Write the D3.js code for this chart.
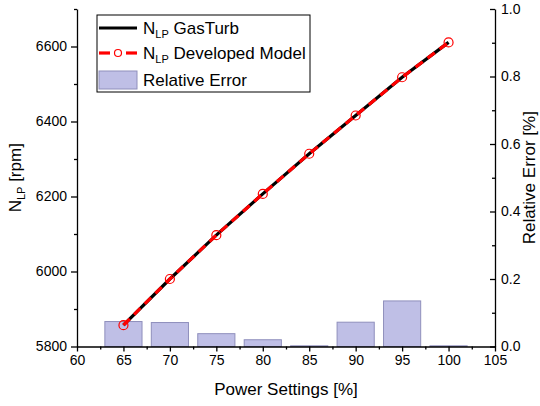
<!DOCTYPE html>
<html>
<head>
<meta charset="utf-8">
<style>
  body { margin: 0; background: #fff; }
  svg { font-family: "Liberation Sans", Arial, sans-serif; }
  .tick text { font-size: 14px; fill: #000; }
</style>
</head>
<body>
<svg id="chart" width="540" height="406"></svg>
<script src="https://cdn.jsdelivr.net/npm/d3@7"></script>
<script>
// data
let power = [65, 70, 75, 80, 85, 90, 95, 100]
let nlpGasTurb = [5857, 5980, 6097, 6207, 6314, 6416, 6518, 6611]
let nlpModel = [5857, 5980, 6097, 6207, 6314, 6416, 6518, 6611]
let relError = [0.074, 0.071, 0.038, 0.020, 0.002, 0.072, 0.135, 0.002]
let xTicks = [60, 65, 70, 75, 80, 85, 90, 95, 100, 105]
let yLeftTicks = [5800, 6000, 6200, 6400, 6600]
let yRightTicks = [0, 0.2, 0.4, 0.6, 0.8, 1.0]

let plotL = 77, plotR = 495, plotT = 9, plotB = 346.5
let svg = d3.select("#chart")

let x = d3.scaleLinear().domain([60, 105]).range([plotL, plotR])
let yL = d3.scaleLinear().domain([5800, 6700]).range([plotB, plotT])
let yR = d3.scaleLinear().domain([0, 1]).range([plotB, plotT])

// bars (relative error)
let barW = x(64) - x(60)
svg.append("g").selectAll("rect")
  .data(power.map((p, i) => ({p: p, e: relError[i]})))
  .enter().append("rect")
  .attr("x", d => x(d.p) - barW / 2)
  .attr("width", barW)
  .attr("y", d => yR(d.e))
  .attr("height", d => plotB - yR(d.e))
  .style("fill", "#bfbfe6")
  .style("stroke", "#8f8fbc")
  .style("stroke-width", 1)

// lines
let lineG = d3.line().x((d, i) => x(power[i])).y(d => yL(d))
svg.append("path").datum(nlpGasTurb)
  .attr("d", lineG)
  .style("fill", "none").style("stroke", "#000").style("stroke-width", 3.2)
svg.append("path").datum(nlpModel)
  .attr("d", lineG)
  .style("fill", "none").style("stroke", "#ff0000").style("stroke-width", 3.2)
  .style("stroke-dasharray", "9,6")
svg.append("g").selectAll("circle")
  .data(nlpModel).enter().append("circle")
  .attr("cx", (d, i) => x(power[i]))
  .attr("cy", d => yL(d))
  .attr("r", 4.5)
  .style("fill", "none").style("stroke", "#ff0000").style("stroke-width", 1.2)

// axes
let xAxis = d3.axisBottom(x).tickValues(xTicks).tickSizeInner(5).tickSizeOuter(0).tickPadding(4)
svg.append("g").attr("transform", `translate(0,${plotB})`).call(xAxis)
svg.append("g").attr("transform", `translate(0,${plotB})`)
  .call(d3.axisBottom(x).tickValues(d3.range(62.5, 105, 5)).tickSize(3).tickFormat(""))
  .select(".domain").remove()

let yAxisL = d3.axisLeft(yL).tickValues(yLeftTicks).tickFormat(d3.format("d"))
  .tickSizeInner(6).tickSizeOuter(0).tickPadding(4)
svg.append("g").attr("transform", `translate(${plotL},0)`).call(yAxisL)
svg.append("g").attr("transform", `translate(${plotL},0)`)
  .call(d3.axisLeft(yL).tickValues([5900, 6100, 6300, 6500, 6700]).tickSize(3).tickFormat(""))
  .select(".domain").remove()

let yAxisR = d3.axisRight(yR).tickValues(yRightTicks).tickFormat(d3.format(".1f"))
  .tickSizeInner(-5).tickSizeOuter(0).tickPadding(6)
svg.append("g").attr("transform", `translate(${plotR},0)`).call(yAxisR)
svg.append("g").attr("transform", `translate(${plotR},0)`)
  .call(d3.axisRight(yR).tickValues([0.1, 0.3, 0.5, 0.7, 0.9]).tickSize(-3).tickFormat(""))
  .select(".domain").remove()

svg.selectAll(".domain, .tick line").style("stroke", "#000").style("stroke-width", 1.3)

// axis titles
svg.append("text").attr("x", (plotL + plotR) / 2).attr("y", 395)
  .attr("text-anchor", "middle").style("font-size", "17px").text("Power Settings [%]")

let yt = svg.append("text").attr("transform", `translate(21,${(plotT + plotB) / 2}) rotate(-90)`)
  .attr("text-anchor", "middle").style("font-size", "17px")
yt.append("tspan").text("N")
yt.append("tspan").attr("dy", 4).style("font-size", "11px").text("LP")
yt.append("tspan").attr("dy", -4).text(" [rpm]")

svg.append("text").attr("transform", `translate(535,${(plotT + plotB) / 2}) rotate(-90)`)
  .attr("text-anchor", "middle").style("font-size", "17px").text("Relative Error [%]")

// legend
let lg = svg.append("g")
lg.append("rect").attr("x", 97).attr("y", 15).attr("width", 213).attr("height", 77)
  .style("fill", "#fff").style("stroke", "#000").style("stroke-width", 1)
lg.append("line").attr("x1", 99).attr("x2", 137).attr("y1", 28).attr("y2", 28)
  .style("stroke", "#000").style("stroke-width", 3.2)
lg.append("line").attr("x1", 99).attr("x2", 110).attr("y1", 53).attr("y2", 53)
  .style("stroke", "#ff0000").style("stroke-width", 3.2)
lg.append("line").attr("x1", 126).attr("x2", 137).attr("y1", 53).attr("y2", 53)
  .style("stroke", "#ff0000").style("stroke-width", 3.2)
lg.append("circle").attr("cx", 118).attr("cy", 53).attr("r", 3.5)
  .style("fill", "#fff").style("stroke", "#ff0000").style("stroke-width", 1.2)
lg.append("rect").attr("x", 99).attr("y", 71).attr("width", 38).attr("height", 18)
  .style("fill", "#bfbfe6").style("stroke", "#8f8fbc")

let legendText = [
  {y: 34, main: "N", sub: "LP", rest: " GasTurb"},
  {y: 59, main: "N", sub: "LP", rest: " Developed Model"},
  {y: 86, main: "Relative Error", sub: "", rest: ""}
]
legendText.forEach(d => {
  let t = lg.append("text").attr("x", 143).attr("y", d.y).style("font-size", "17px")
  t.append("tspan").text(d.main)
  if (d.sub) {
    t.append("tspan").attr("dy", 4).style("font-size", "11px").text(d.sub)
    t.append("tspan").attr("dy", -4).text(d.rest)
  }
})
</script>
</body>
</html>
